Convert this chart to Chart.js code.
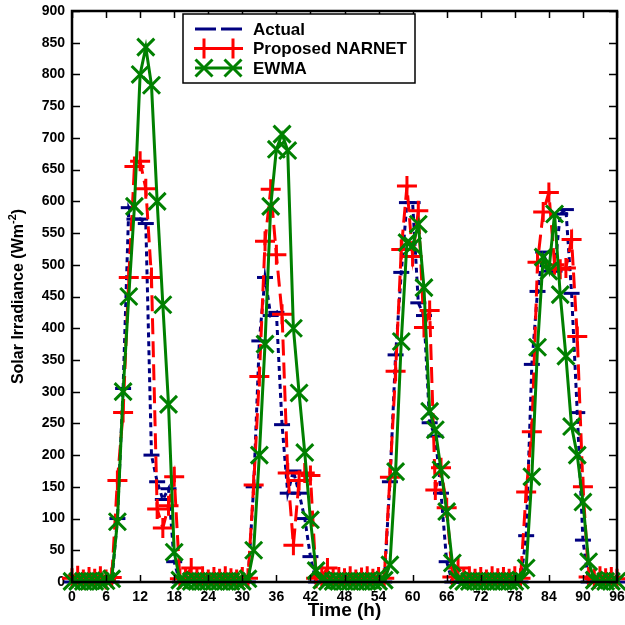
<!DOCTYPE html>
<html>
<head>
<meta charset="utf-8">
<script src="https://cdn.jsdelivr.net/npm/chart.js@4.4.0/dist/chart.umd.min.js"></script>
<style>
body{margin:0;background:#fff}
</style>
</head>
<body>
<canvas id="chart" width="625" height="625"></canvas>
<script>
// hours on the x axis
const hours=[0,1,2,3,4,5,6,7,8,9,10,11,12,13,14,15,16,17,18,19,20,21,22,23,24,25,26,27,28,29,30,31,32,33,34,35,36,37,38,39,40,41,42,43,44,45,46,47,48,49,50,51,52,53,54,55,56,57,58,59,60,61,62,63,64,65,66,67,68,69,70,71,72,73,74,75,76,77,78,79,80,81,82,83,84,85,86,87,88,89,90,91,92,93,94,95,96]

const actual=[0,0,0,0,0,0,0,0,
  100,305,590,572,572,565,200,158,130,147,32,
  0,0,0,0,0,0,0,0,0,0,0,0,0,
  150,380,480,420,425,248,140,175,140,100,40,
  0,0,0,0,0,0,0,0,0,0,0,0,0,
  158,358,488,598,598,440,420,251,230,140,32,
  0,0,0,0,0,0,0,0,0,0,0,0,0,
  73,343,458,520,490,490,580,587,455,267,66,
  0,0,0,0,0,0]

const narnet=[6,10,4,8,5,9,4,7,
  160,267,480,655,663,620,480,115,85,120,166,
  5,8,22,6,9,4,8,5,9,6,4,8,6,
  153,324,537,619,516,422,172,58,160,172,168,
  6,9,22,5,8,6,9,4,7,9,5,8,6,
  165,332,524,624,513,585,401,428,145,180,117,
  8,22,6,9,5,8,4,9,6,8,5,9,6,
  142,237,504,583,614,500,493,495,540,387,150,
  8,5,9,6,8,5]

const ewma=[1,1,1,1,1,1,2,5,
  95,300,450,592,800,843,783,600,437,280,47,
  3,1,1,1,1,1,1,1,1,1,1,1,5,
  50,200,375,592,682,706,680,400,298,204,98,
  18,3,1,1,1,1,1,1,1,1,1,1,3,
  27,174,379,535,530,564,464,269,240,177,111,
  30,3,1,1,1,1,1,1,1,1,1,1,3,
  22,166,370,512,490,580,453,356,245,200,126,
  32,3,1,1,1,1]

const xTicks=[0,6,12,18,24,30,36,42,48,54,60,66,72,78,84,90,96]
const yTicks=[0,50,100,150,200,250,300,350,400,450,500,550,600,650,700,750,800,850,900]
const seriesNames=['Actual','Proposed NARNET','EWMA']

const FONT='"Liberation Sans", Arial, sans-serif'

// inward ticks, box frame, legend and axis titles
const framePlugin={
  id:'frame',
  afterDatasetsDraw(chart){
    const ctx=chart.ctx
    const a=chart.chartArea
    const xs=chart.scales.x, ys=chart.scales.y
    ctx.save()
    ctx.strokeStyle='#000'
    ctx.lineWidth=1.5
    ctx.beginPath()
    xTicks.forEach(v=>{
      const px=Math.round(xs.getPixelForValue(v))+0.5
      ctx.moveTo(px,a.bottom);ctx.lineTo(px,a.bottom-7)
      ctx.moveTo(px,a.top);ctx.lineTo(px,a.top+7)
    })
    yTicks.forEach(v=>{
      const py=Math.round(ys.getPixelForValue(v))+0.5
      ctx.moveTo(a.left,py);ctx.lineTo(a.left+8,py)
      ctx.moveTo(a.right,py);ctx.lineTo(a.right-8,py)
    })
    ctx.stroke()
    ctx.lineWidth=2.5
    ctx.strokeRect(a.left,a.top,a.right-a.left,a.bottom-a.top)

    // legend
    const bx=a.left+111, by=a.top+3, bw=232, bh=69
    ctx.fillStyle='#fff'
    ctx.fillRect(bx,by,bw,bh)
    ctx.lineWidth=1.5
    ctx.strokeRect(bx,by,bw,bh)
    chart.data.datasets.forEach((ds,i)=>{
      const yy=by+15+i*19.5
      const x0=bx+12, x1=bx+59
      ctx.save()
      ctx.strokeStyle=ds.borderColor
      ctx.fillStyle=ds.borderColor
      ctx.lineWidth=ds.borderWidth
      ctx.setLineDash(ds.legendDash||[])
      ctx.beginPath();ctx.moveTo(x0,yy);ctx.lineTo(x1,yy);ctx.stroke()
      ctx.setLineDash([])
      if(ds.legendMarks){
        ctx.lineWidth=ds.pointBorderWidth
        ;[x0+9,x1-9].forEach(px=>{
          Chart.helpers.drawPoint(ctx,{pointStyle:ds.pointStyle,radius:ds.pointRadius,rotation:0,borderWidth:ds.pointBorderWidth},px,yy)
        })
      }
      ctx.restore()
      ctx.fillStyle='#000'
      ctx.font='bold 17px '+FONT
      ctx.textAlign='left'
      ctx.textBaseline='middle'
      ctx.fillText(seriesNames[i],bx+70,yy+1)
    })

    // axis titles
    ctx.fillStyle='#000'
    ctx.textAlign='center'
    ctx.textBaseline='middle'
    ctx.font='bold 19px '+FONT
    ctx.fillText('Time (h)',(a.left+a.right)/2,611)

    ctx.save()
    ctx.translate(19,(a.top+a.bottom)/2)
    ctx.rotate(-Math.PI/2)
    ctx.font='bold 16px '+FONT
    const t1='Solar Irradiance (Wm', t2='-2', t3=')'
    const w1=ctx.measureText(t1).width, w3=ctx.measureText(t3).width
    ctx.font='bold 11px '+FONT
    const w2=ctx.measureText(t2).width
    let sx=-(w1+w2+w3)/2
    ctx.textAlign='left'
    ctx.font='bold 16px '+FONT
    ctx.fillText(t1,sx,0)
    ctx.font='bold 11px '+FONT
    ctx.fillText(t2,sx+w1,-6)
    ctx.font='bold 16px '+FONT
    ctx.fillText(t3,sx+w1+w2,0)
    ctx.restore()
    ctx.restore()
  }
}

new Chart(document.getElementById('chart'),{
  type:'line',
  data:{
    labels:hours,
    datasets:[
      {label:seriesNames[0],data:actual,borderColor:'#000080',backgroundColor:'#000080',borderWidth:3,borderDash:[5,4],legendDash:[21,5],legendMarks:false,
        pointStyle:'line',pointRadius:8,pointBorderWidth:3,pointBorderColor:'#000080',order:3,clip:false,tension:0},
      {label:seriesNames[1],data:narnet,borderColor:'#ff0000',backgroundColor:'#ff0000',borderWidth:3,borderDash:[16,7],legendMarks:true,
        pointStyle:'cross',pointRadius:10,pointBorderWidth:3,pointBorderColor:'#ff0000',order:2,clip:false,tension:0},
      {label:seriesNames[2],data:ewma,borderColor:'#008000',backgroundColor:'#008000',borderWidth:3,legendMarks:true,
        pointStyle:'crossRot',pointRadius:12,pointBorderWidth:3,pointBorderColor:'#008000',order:1,clip:false,tension:0}
    ]
  },
  options:{
    responsive:false,
    animation:false,
    devicePixelRatio:1,
    layout:{autoPadding:false,padding:{top:11,right:8,left:0,bottom:0}},
    plugins:{legend:{display:false},tooltip:{enabled:false}},
    scales:{
      x:{
        type:'linear',min:0,max:96,
        afterBuildTicks:s=>{s.ticks=xTicks.map(v=>({value:v}))},
        afterFit:s=>{s.height=43;s.paddingLeft=0;s.paddingRight=0},
        grid:{display:false,drawTicks:false,tickLength:0},border:{display:false},
        ticks:{autoSkip:false,maxRotation:0,padding:7,color:'#000',font:{family:FONT,size:14,weight:'bold'}}
      },
      y:{
        min:0,max:900,
        afterBuildTicks:s=>{s.ticks=yTicks.map(v=>({value:v}))},
        afterFit:s=>{s.width=72;s.paddingTop=0;s.paddingBottom=0},
        grid:{display:false,drawTicks:false,tickLength:0},border:{display:false},
        ticks:{padding:7,color:'#000',font:{family:FONT,size:14,weight:'bold'}}
      }
    }
  },
  plugins:[framePlugin]
})
</script>
</body>
</html>
